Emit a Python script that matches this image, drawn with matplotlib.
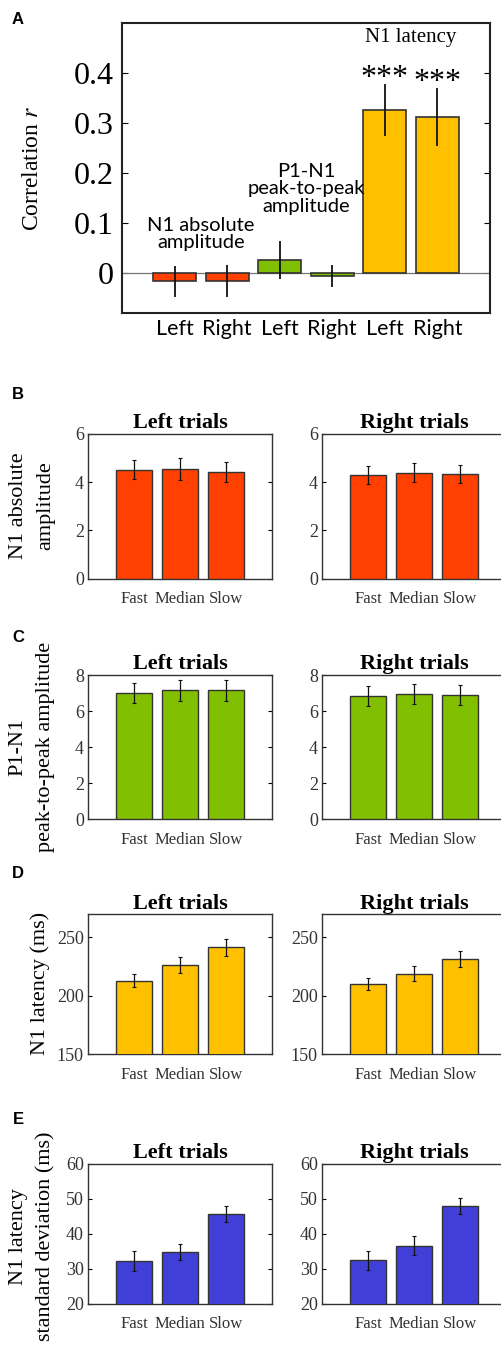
import numpy as np
import matplotlib
matplotlib.use("Agg")
import matplotlib.pyplot as plt

plt.rcParams['font.family'] = ['Liberation Serif', 'DejaVu Serif']
plt.rcParams['mathtext.fontset'] = 'stix'

# panel A : correlations
corr_labels = ["Left", "Right", "Left", "Right", "Left", "Right"]
corr_r = [-0.017, -0.017, 0.025, -0.007, 0.325, 0.311]
corr_err = [0.031, 0.032, 0.038, 0.022, 0.052, 0.058]

cond = ["Fast", "Median", "Slow"]

# panels B-E : (left trials, right trials)
amp_left = [4.52, 4.55, 4.42]
amp_left_err = [0.40, 0.45, 0.40]
amp_right = [4.31, 4.39, 4.33]
amp_right_err = [0.37, 0.40, 0.38]

p2p_left = [7.02, 7.15, 7.15]
p2p_left_err = [0.56, 0.58, 0.60]
p2p_right = [6.82, 6.96, 6.89]
p2p_right_err = [0.55, 0.55, 0.57]

lat_left = [213.0, 226.5, 241.4]
lat_left_err = [5.3, 6.7, 7.4]
lat_right = [209.8, 219.0, 231.4]
lat_right_err = [5.2, 6.5, 7.0]

sd_left = [32.3, 34.8, 45.7]
sd_left_err = [2.8, 2.3, 2.3]
sd_right = [32.5, 36.6, 47.9]
sd_right_err = [2.7, 2.7, 2.3]

red = "#FF4000"
green = "#80C000"
yellow = "#FFC000"
blue = "#4040D8"
edge = "#333333"

fig = plt.figure(figsize=(5.02, 13.59), dpi=100)

# ---------------- panel A
axA = fig.add_axes([0.243, 0.7697, 0.733, 0.2134])
xa = np.arange(1, 7)
colsA = [red, red, green, green, yellow, yellow]
axA.bar(xa, corr_r, width=0.82, color=colsA, edgecolor=edge, linewidth=1.2, zorder=3)
axA.errorbar(xa, corr_r, yerr=corr_err, fmt='none', ecolor='#111111', elinewidth=1.3, capsize=0, zorder=4)
axA.axhline(0, color='#777777', linewidth=0.9, zorder=2)
axA.set_xlim(0, 7)
axA.set_ylim(-0.08, 0.5)
axA.set_yticks([0, 0.1, 0.2, 0.3, 0.4])
axA.set_yticklabels(["0", "0.1", "0.2", "0.3", "0.4"])
axA.set_xticks(xa)
axA.set_xticklabels(corr_labels, family=['Lato', 'DejaVu Sans'], fontsize=15.5)
axA.tick_params(axis='y', direction='in', right=True, length=4, labelsize=23, pad=6)
axA.tick_params(axis='x', length=0, pad=4)
for s in axA.spines.values():
    s.set_linewidth(1.5)
    s.set_color('#222222')
axA.set_ylabel("Correlation $r$", fontsize=17)
axA.yaxis.set_label_coords(-0.215, 0.5)

sans = ['Lato', 'DejaVu Sans']
axA.text(1.5, 0.078, "N1 absolute\namplitude", ha='center', va='center', family=sans, fontsize=14.5, linespacing=1.05)
axA.text(3.5, 0.168, "P1-N1\npeak-to-peak\namplitude", ha='center', va='center', family=sans, fontsize=14.5, linespacing=1.05)
axA.text(5.5, 0.47, "N1 latency", ha='center', va='center', fontsize=15)
axA.text(5, 0.374, "***", ha='center', va='baseline', fontsize=23)
axA.text(6, 0.366, "***", ha='center', va='baseline', fontsize=23)

# ---------------- panels B-E
rows = [
    (amp_left, amp_left_err, amp_right, amp_right_err, red, (0, 6), [0, 2, 4, 6], 0.5742, 0.1065),
    (p2p_left, p2p_left_err, p2p_right, p2p_right_err, green, (0, 8), [0, 2, 4, 6, 8], 0.3971, 0.1062),
    (lat_left, lat_left_err, lat_right, lat_right_err, yellow, (150, 270), [150, 200, 250], 0.2242, 0.1032),
    (sd_left, sd_left_err, sd_right, sd_right_err, blue, (20, 60), [20, 30, 40, 50, 60], 0.0405, 0.1032),
]
xb = np.arange(1, 4)
for vl, el, vr, er, col, ylim, yt, bot, hgt in rows:
    for left, vals, errs, title in [(0.1753, vl, el, "Left trials"), (0.6414, vr, er, "Right trials")]:
        ax = fig.add_axes([left, bot, 0.3665, hgt])
        ax.bar(xb, vals, width=0.8, color=col, edgecolor=edge, linewidth=1.0, zorder=3)
        ax.errorbar(xb, vals, yerr=errs, fmt='none', ecolor='#111111', elinewidth=0.9, capsize=1.5, capthick=0.8, zorder=4)
        ax.set_xlim(0, 4)
        ax.set_ylim(*ylim)
        ax.set_yticks(yt)
        ax.set_xticks(xb)
        ax.set_xticklabels(cond, fontsize=12)
        ax.tick_params(axis='y', direction='in', right=True, length=3, labelsize=13, pad=3, labelcolor='#333333')
        ax.tick_params(axis='x', length=0, pad=9, labelcolor='#333333')
        for s in ax.spines.values():
            s.set_linewidth(1.0)
            s.set_color('#333333')
        ax.set_title(title, fontsize=16, fontweight='bold', pad=4)

# y labels, one line each
ylab_lines = [
    ("N1 absolute", 0.036, 0.6277), ("amplitude", 0.092, 0.6277),
    ("P1-N1", 0.036, 0.4503), ("peak-to-peak amplitude", 0.090, 0.4503),
    ("N1 latency (ms)", 0.080, 0.276),
    ("N1 latency", 0.036, 0.090), ("standard deviation (ms)", 0.092, 0.090),
]
for txt, xp, yp in ylab_lines:
    fig.text(xp, yp, txt, rotation=90, ha='center', va='center', fontsize=16)

letters = [("A", 20), ("B", 394), ("C", 638), ("D", 874), ("E", 1120)]
for lt, yp in letters:
    fig.text(0.036, 1 - yp / 1359, lt, ha='center', va='center', family=['Liberation Sans', 'DejaVu Sans'],
             fontweight='bold', fontsize=12)

fig.savefig("out.png", dpi=100)
